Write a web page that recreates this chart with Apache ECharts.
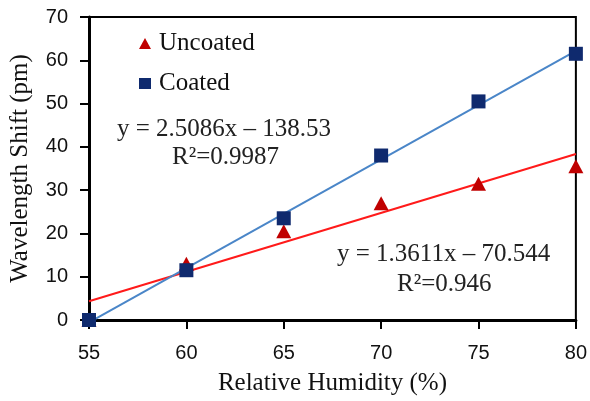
<!DOCTYPE html>
<html>
<head>
<meta charset="utf-8">
<script src="https://cdn.jsdelivr.net/npm/echarts@6/dist/echarts.min.js"></script>
<style>
  html, body { margin: 0; padding: 0; background: #fff; }
  #chart { width: 590px; height: 401px; }
</style>
</head>
<body>
<div id="chart"></div>
<script>
// Relative humidity (%) at each measurement
const humidity = [55, 60, 65, 70, 75, 80];
// Wavelength shift (pm) for the two sensor types
const uncoated = [0, 13, 20.5, 27, 31.5, 35.5];
const coated = [0, 11.5, 23.5, 38, 50.5, 61.5];
// Linear fits: [slope, intercept, R²]
const uncoatedFit = [1.3611, -70.544, 0.946];
const coatedFit = [2.5086, -138.53, 0.9987];
const xTicks = [55, 60, 65, 70, 75, 80];
const yTicks = [0, 10, 20, 30, 40, 50, 60, 70];

function fitLine(fit) {
  const x0 = humidity[0], x1 = humidity[humidity.length - 1];
  return [[x0, fit[0] * x0 + fit[1]], [x1, fit[0] * x1 + fit[1]]];
}
function eqText(fit) {
  return 'y = ' + fit[0] + 'x \u2013 ' + Math.abs(fit[1]);
}

const serif = '"Liberation Serif", "Times New Roman", serif';
const sans = '"Liberation Sans", Arial, sans-serif';

const chart = echarts.init(document.getElementById('chart'));
chart.setOption({
  animation: false,
  grid: {
    left: 89, right: 12, top: 17, bottom: 80,
    show: true, borderColor: '#000', borderWidth: 2, backgroundColor: '#fff'
  },
  legend: {
    data: ['Uncoated', 'Coated'],
    orient: 'vertical',
    left: 134, top: 26,
    itemGap: 15,
    itemWidth: 12, itemHeight: 11,
    textStyle: { fontFamily: serif, fontSize: 25, color: '#111', padding: [0, 0, 0, 3] }
  },
  xAxis: {
    type: 'value', min: 55, max: 80, interval: 5,
    name: 'Relative Humidity (%)', nameLocation: 'middle', nameGap: 51,
    nameTextStyle: { fontFamily: serif, fontSize: 25, color: '#111' },
    axisLine: { onZero: false, lineStyle: { color: '#000', width: 3 } },
    axisTick: { show: true, length: 9, lineStyle: { color: '#000', width: 2 } },
    axisLabel: { fontFamily: sans, fontSize: 20, color: '#111', margin: 23,
      formatter: v => xTicks.includes(v) ? String(v) : '' },
    splitLine: { show: false }
  },
  yAxis: {
    type: 'value', min: 0, max: 70, interval: 10,
    name: 'Wavelength Shift (pm)', nameLocation: 'middle', nameGap: 56,
    nameTextStyle: { fontFamily: serif, fontSize: 25, color: '#111' },
    axisLine: { onZero: false, lineStyle: { color: '#000', width: 3 } },
    axisTick: { show: true, length: 9, lineStyle: { color: '#000', width: 2 } },
    axisLabel: { fontFamily: sans, fontSize: 20, color: '#111', margin: 21,
      formatter: v => yTicks.includes(v) ? String(v) : '' },
    splitLine: { show: false }
  },
  series: [
    {
      name: 'Uncoated fit', type: 'line', data: fitLine(uncoatedFit),
      symbol: 'none', lineStyle: { color: '#ff1a1a', width: 2 }, z: 2, silent: true
    },
    {
      name: 'Coated fit', type: 'line', data: fitLine(coatedFit),
      symbol: 'none', lineStyle: { color: '#4a86c8', width: 2 }, z: 2, silent: true
    },
    {
      name: 'Uncoated', type: 'scatter',
      data: humidity.map((h, i) => [h, uncoated[i]]),
      symbol: 'triangle', symbolSize: [15, 14],
      itemStyle: { color: '#c00000', opacity: 1 }, z: 3
    },
    {
      name: 'Coated', type: 'scatter',
      data: humidity.map((h, i) => [h, coated[i]]),
      symbol: 'rect', symbolSize: 14,
      itemStyle: { color: '#0f2a6e', opacity: 1 }, z: 4
    }
  ],
  graphic: [
    { type: 'text', left: 117, top: 117, z: 10,
      style: { text: eqText(coatedFit), font: '25px ' + serif, fill: '#222' } },
    { type: 'text', left: 172, top: 145, z: 10,
      style: { text: 'R\u00b2=' + coatedFit[2], font: '25px ' + serif, fill: '#222' } },
    { type: 'text', left: 337, top: 242, z: 10,
      style: { text: eqText(uncoatedFit), font: '25px ' + serif, fill: '#222' } },
    { type: 'text', left: 397, top: 272, z: 10,
      style: { text: 'R\u00b2=' + uncoatedFit[2], font: '25px ' + serif, fill: '#222' } }
  ]
});
</script>
</body>
</html>
